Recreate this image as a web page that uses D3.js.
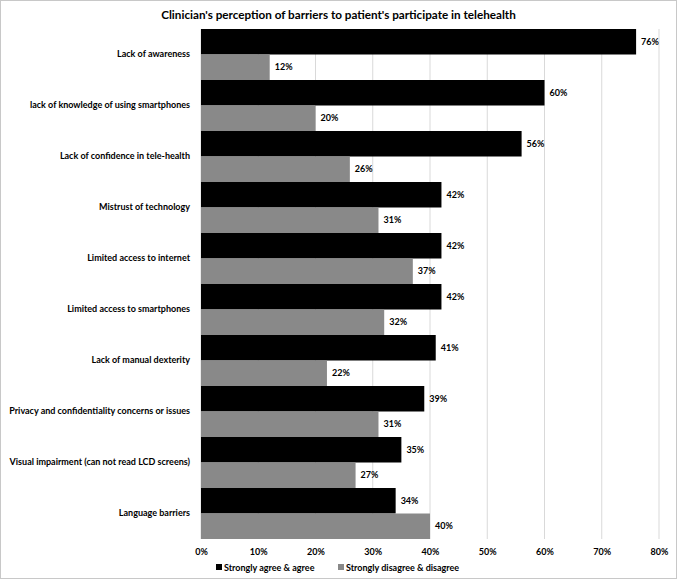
<!DOCTYPE html>
<html><head><meta charset="utf-8">
<script src="https://cdn.jsdelivr.net/npm/d3@7"></script>
<style>body{margin:0;background:#fff}svg{display:block}text{font-family:Lato,"Open Sans",sans-serif;font-weight:bold}</style>
</head><body>
<script>
const categories = ["Lack of awareness","lack of knowledge of using smartphones","Lack of confidence in tele-health","Mistrust of technology","Limited access to internet","Limited access to smartphones","Lack of manual dexterity","Privacy and confidentiality concerns or issues","Visual impairment (can not read LCD screens)","Language barriers"];
const agree = [76,60,56,42,42,42,41,39,35,34];
const disagree = [12,20,26,31,37,32,22,31,27,40];
const seriesNames = ["Strongly agree & agree","Strongly disagree & disagree"];
const xTicks = [0,10,20,30,40,50,60,70,80];
const colors = ["#000000","#898989"];

const W=677,H=580;
const svg=d3.select("body").append("svg").attr("width",W).attr("height",H);
svg.append("rect").attr("x",0.5).attr("y",0.5).attr("width",W-1).attr("height",H-2).attr("fill","#fff").attr("stroke","#c8c8c8");
const m={l:201,r:659,t:29,b:539};
const x=d3.scaleLinear().domain([0,80]).range([m.l,m.r]);
const y0=d3.scaleBand().domain(categories).range([m.t,m.b]).paddingInner(0).paddingOuter(0);
const y1=d3.scaleBand().domain([0,1]).range([0,y0.bandwidth()]).padding(0);

svg.append("text").attr("x",W/2).attr("y",19).attr("text-anchor","middle").attr("font-size",11.7).attr("font-weight",900).text("Clinician's perception of barriers to patient's participate in telehealth");

svg.append("g").selectAll("line").data(xTicks).join("line")
 .attr("x1",d=>x(d)).attr("x2",d=>x(d)).attr("y1",m.t).attr("y2",m.b).attr("stroke","#d9d9d9");

const xAxis=d3.axisBottom(x).tickValues(xTicks).tickFormat(d=>d+"%").tickSize(0).tickPadding(8);
const gx=svg.append("g").attr("transform",`translate(0,${m.b})`).call(xAxis);
gx.select(".domain").remove();
gx.selectAll("text").attr("font-size",9).attr("fill","#000").attr("font-family","Lato").attr("font-weight","bold").attr("dy","0.9em");

const yAxis=d3.axisLeft(y0).tickSize(0).tickPadding(11);
const gy=svg.append("g").attr("transform",`translate(${m.l},0)`).call(yAxis);
gy.select(".domain").remove();
gy.selectAll("text").attr("font-size",9).attr("fill","#000").attr("font-family","Lato").attr("font-weight","bold");

const series=[agree,disagree];
series.forEach((vals,si)=>{
  const g=svg.append("g");
  g.selectAll("rect").data(vals).join("rect")
   .attr("x",x(0)).attr("y",(d,i)=>y0(categories[i])+y1(si))
   .attr("width",d=>x(d)-x(0)).attr("height",y1.bandwidth()).attr("fill",colors[si]);
  g.selectAll("text").data(vals).join("text")
   .attr("x",d=>x(d)+5).attr("y",(d,i)=>y0(categories[i])+y1(si)+y1.bandwidth()/2)
   .attr("dy","0.35em").attr("font-size",9).text(d=>d+"%");
});

const leg=svg.append("g").attr("transform","translate(0,568)");
const legX=[216,338];
seriesNames.forEach((n,i)=>{
  leg.append("rect").attr("x",legX[i]).attr("y",-4).attr("width",6).attr("height",6).attr("fill",colors[i]);
  leg.append("text").attr("x",legX[i]+8).attr("y",0).attr("dy","0.3em").attr("font-size",9).text(n);
});
</script>
</body></html>
